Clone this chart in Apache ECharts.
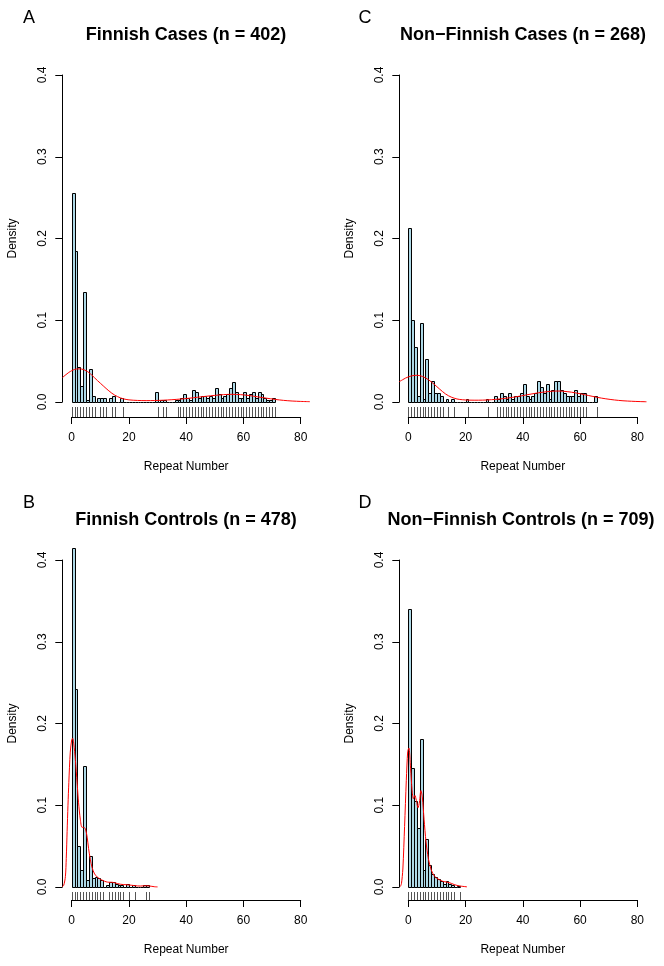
<!DOCTYPE html>
<html><head><meta charset="utf-8">
<script src="https://cdn.jsdelivr.net/npm/echarts@6/dist/echarts.min.js"></script>
<style>html,body{margin:0;padding:0;background:#fff}#c{width:664px;height:966px}</style>
</head><body><div id="c"></div>
<script>
// ---------- text ----------
const panelLetters = ['A', 'B', 'C', 'D'];
const panelTitles = ['Finnish Cases (n = 402)', 'Finnish Controls (n = 478)',
  'Non\u2212Finnish Cases (n = 268)', 'Non\u2212Finnish Controls (n = 709)'];
const xAxisTitle = 'Repeat Number';
const yAxisTitle = 'Density';
const xTickStep = 20;   // ticks 0, 20, 40, 60, 80
const yTickStep = 0.1;  // ticks 0.0 ... 0.4

// ---------- histogram densities, bins of width 1 starting at 0 ----------
const histA = [0.2562,0.1841,0.0423,0.0199,0.1343,0.0025,0.0398,0.0075,0,0.0050,
  0.0050,0.0050,0,0.0050,0.0075,0,0,0.0050,0,0,
  0,0,0,0,0,0,0,0,0,0.0124,
  0,0.0025,0.0025,0,0,0,0.0025,0.0025,0.0050,0.0100,
  0.0050,0.0025,0.0149,0.0124,0.0050,0.0075,0.0075,0.0050,0.0075,0.0050,
  0.0174,0.0100,0.0050,0.0075,0.0100,0.0174,0.0249,0.0124,0.0050,0.0050,
  0.0124,0.0050,0.0100,0.0124,0.0050,0.0124,0.0100,0.0050,0.0025,0.0025,
  0.0050];
const histB = [0.4142,0.2427,0.0502,0.0209,0.1485,0.0084,0.0377,0.0105,0.0126,0.0105,
  0.0084,0,0.0021,0.0063,0.0063,0.0042,0.0021,0.0021,0,0.0042,
  0,0.0021,0,0,0,0.0021,0.0021];
const histC = [0.2127,0.1007,0.0672,0.0075,0.0970,0.0037,0.0522,0.0112,0.0261,0.0112,
  0.0112,0.0075,0,0.0037,0,0.0037,0,0,0,0,
  0.0037,0,0,0,0,0,0,0.0037,0,0,
  0.0075,0.0037,0.0112,0.0075,0.0037,0.0112,0.0037,0.0075,0.0075,0.0112,
  0.0224,0.0075,0.0037,0.0075,0.0112,0.0261,0.0187,0.0112,0.0224,0.0037,
  0.0149,0.0261,0.0261,0.0149,0.0112,0.0075,0.0075,0.0075,0.0149,0.0075,
  0.0112,0.0112,0,0,0,0.0075];
const histD = [0.3399,0.1453,0.1058,0.0719,0.1805,0.0212,0.0592,0.0268,0.0155,0.0127,
  0.0099,0.0071,0.0042,0.0071,0.0042,0.0028,0,0.0014];

// ---------- rug (observed repeat numbers) ----------
const rugA = [0,1,2,3,4,5,6,7,8,10,11,12,14,15,18,30,32,33,37,38,39,40,41,42,43,44,45,46,47,48,
  49,50,51,52,53,54,55,56,57,58,59,60,61,62,63,64,65,66,67,68,69,70,71];
const rugB = [0,1,2,3,4,5,6,7,8,9,10,11,13,14,15,16,17,18,20,22,26,27];
const rugC = [0,1,2,3,4,5,6,7,8,9,10,11,12,14,16,21,28,31,32,33,34,35,36,37,38,39,40,41,42,43,
  44,45,46,47,48,49,50,51,52,53,54,55,56,57,58,59,60,61,62,66];
const rugD = [0,1,2,3,4,5,6,7,8,9,10,11,12,13,14,15,16,18];

// ---------- kernel density curves [x, density] ----------
const kdeA = [[-3.2,0.030],[-2,0.0335],[-1,0.0362],[0,0.0383],[1,0.0398],[2,0.0405],[3,0.0405],[4,0.0398],
  [5,0.0383],[6,0.0360],[7,0.0330],[8,0.0296],[9,0.0262],[10,0.0230],[11,0.0198],[12,0.0166],[13,0.0136],
  [14,0.0108],[15,0.0085],[16,0.0066],[17,0.0051],[18,0.0039],[20,0.0026],[23,0.0019],[26,0.0017],
  [29,0.0018],[32,0.0022],[35,0.0028],[38,0.0036],[41,0.0046],[44,0.0058],[47,0.0070],[50,0.0081],
  [53,0.0090],[56,0.0094],[59,0.0090],[62,0.0079],[65,0.0063],[68,0.0047],[71,0.0032],[74,0.0020],
  [77,0.0012],[80,0.0007],[83.2,0.0004]];
const kdeB = [[-3.4,0.0005],[-2.8,0.002],[-2.2,0.013],[-1.9,0.035],[-1.6,0.068],[-1.3,0.100],[-1.0,0.128],
  [-0.5,0.165],[0,0.180],[0.3,0.182],[0.7,0.176],[1.3,0.155],[1.9,0.127],[2.4,0.103],[3.0,0.083],
  [3.6,0.073],[4.2,0.073],[4.8,0.071],[5.4,0.061],[5.9,0.047],[6.5,0.034],[7.1,0.024],[8.0,0.016],
  [9.0,0.012],[10,0.0095],[11,0.0078],[12,0.0064],[13,0.0058],[14,0.0058],[15,0.0052],[16,0.0042],
  [17,0.0034],[18,0.0030],[19,0.0028],[20,0.0025],[21,0.0021],[22,0.0017],[23,0.0013],[24,0.0012],
  [25,0.0014],[26,0.0015],[27,0.0013],[28,0.0008],[29,0.0003],[30,0.0001]];
const kdeC = [[-3.2,0.0248],[-2,0.0272],[-1,0.0292],[0,0.0307],[1,0.0318],[2,0.0325],[3,0.0327],[4,0.0323],
  [5,0.0312],[6,0.0295],[7,0.0273],[8,0.0247],[9,0.0218],[10,0.0187],[11,0.0156],[12,0.0126],[13,0.0099],
  [14,0.0077],[15,0.0060],[16,0.0047],[17,0.0037],[18,0.0031],[20,0.0025],[23,0.0022],[26,0.0023],
  [29,0.0028],[32,0.0037],[35,0.0050],[38,0.0066],[41,0.0085],[44,0.0104],[47,0.0120],[50,0.0131],
  [52,0.0134],[54,0.0132],[57,0.0120],[60,0.0101],[63,0.0079],[66,0.0057],[69,0.0039],[72,0.0025],
  [75,0.0015],[78,0.0009],[81,0.0005],[83.2,0.0003]];
const kdeD = [[-2.8,0.0005],[-2.4,0.004],[-1.9,0.022],[-1.3,0.074],[-0.7,0.130],[-0.2,0.166],[0.2,0.170],
  [0.8,0.145],[1.3,0.119],[1.8,0.108],[2.3,0.112],[2.8,0.106],[3.4,0.097],[3.9,0.104],[4.4,0.118],
  [4.9,0.110],[5.5,0.083],[6.2,0.055],[7.0,0.035],[8.0,0.021],[9.2,0.013],[10.4,0.0098],[12,0.0070],
  [13.5,0.0060],[15,0.0045],[16,0.0030],[17,0.0020],[18.5,0.0010],[20.5,0.0002]];

// ---------- layout ----------
const FONT = '"Liberation Sans", Arial, Helvetica, sans-serif';
const X_MIN = 0, X_MAX = 80, X_PAD = 3.2;   // plot region extends 4% beyond the axis range
const W = 229, H = 327;
const panels = [
  { hist: histA, rug: rugA, kde: kdeA, left: 71.7, top: 75,  xOff: 15, yOff: 9.4, cx: 186, ty: 35,  lx: 29,  ly: 18 },
  { hist: histB, rug: rugB, kde: kdeB, left: 71.7, top: 560, xOff: 13, yOff: 9.4, cx: 186, ty: 520, lx: 29,  ly: 503 },
  { hist: histC, rug: rugC, kde: kdeC, left: 408.3, top: 75,  xOff: 15, yOff: 9,  cx: 523, ty: 35,  lx: 365, ly: 18 },
  { hist: histD, rug: rugD, kde: kdeD, left: 408.3, top: 560, xOff: 13, yOff: 9,  cx: 521, ty: 520, lx: 365, ly: 503 }
];

const grid = [], xAxis = [], yAxis = [], series = [], title = [];
panels.forEach((p, i) => {
  const pxPerUnit = W / (X_MAX - X_MIN);
  // visible axes grid (0..80)
  grid.push({ left: p.left, top: p.top, width: W, height: H });
  // plot-region grid (-3.2..83.2) used by the data
  grid.push({ left: p.left - X_PAD * pxPerUnit, top: p.top, width: W + 2 * X_PAD * pxPerUnit, height: H });
  const gv = 2 * i, gd = 2 * i + 1;
  xAxis.push({
    type: 'value', gridIndex: gv, min: X_MIN, max: X_MAX, interval: xTickStep, offset: p.xOff,
    axisLine: { show: true, onZero: false, lineStyle: { color: '#000', width: 1 } },
    axisTick: { show: true, length: 7, lineStyle: { color: '#000', width: 1 } },
    axisLabel: { color: '#000', fontSize: 12, fontFamily: FONT, margin: 15 },
    splitLine: { show: false },
    name: xAxisTitle, nameLocation: 'middle', nameGap: 44,
    nameTextStyle: { color: '#000', fontSize: 12, fontFamily: FONT }
  });
  xAxis.push({ type: 'value', gridIndex: gd, min: X_MIN - X_PAD, max: X_MAX + X_PAD, show: false,
    splitLine: { show: false } });
  yAxis.push({
    type: 'value', gridIndex: gv, min: 0, max: 0.4, interval: yTickStep, offset: p.yOff,
    axisLine: { show: true, onZero: false, lineStyle: { color: '#000', width: 1 } },
    axisTick: { show: true, length: 7, lineStyle: { color: '#000', width: 1 } },
    axisLabel: { color: '#000', fontSize: 12, fontFamily: FONT, rotate: 90, margin: 14,
      formatter: v => v.toFixed(1) },
    splitLine: { show: false },
    name: yAxisTitle, nameLocation: 'middle', nameGap: 44,
    nameTextStyle: { color: '#000', fontSize: 12, fontFamily: FONT }
  });
  yAxis.push({ type: 'value', gridIndex: gd, min: 0, max: 0.4, show: false, splitLine: { show: false } });
  const xi = 2 * i + 1, yi = 2 * i + 1;
  // histogram
  series.push({
    type: 'custom', xAxisIndex: xi, yAxisIndex: yi, silent: true,
    data: p.hist.map((d, k) => [k, d]),
    renderItem: (params, api) => {
      const x0 = api.value(0), d = api.value(1);
      const a = api.coord([x0, d]);
      const b = api.coord([x0 + 1, 0]);
      const x1 = Math.round(a[0]) + 0.5, x2 = Math.round(b[0]) + 0.5;
      const yTop = Math.round(a[1]) + 0.5, yBot = Math.round(b[1]) + 0.5;
      if (d === 0) {
        return { type: 'line', shape: { x1: x1, y1: yBot, x2: x2, y2: yBot },
          style: { stroke: '#000', lineWidth: 1 } };
      }
      return { type: 'rect', shape: { x: x1, y: yTop, width: x2 - x1, height: yBot - yTop },
        style: { fill: '#ADD8E6', stroke: '#000', lineWidth: 1 } };
    }
  });
  // rug
  series.push({
    type: 'custom', xAxisIndex: xi, yAxisIndex: yi, silent: true, clip: false,
    data: p.rug.map(v => [v, 0]),
    renderItem: (params, api) => {
      const c = api.coord([api.value(0), 0]);
      const x = Math.round(c[0]) + 0.5;
      return { type: 'line', shape: { x1: x, y1: c[1] + 5, x2: x, y2: c[1] + p.xOff },
        style: { stroke: '#555', lineWidth: 1 } };
    }
  });
  // density
  series.push({
    type: 'line', xAxisIndex: xi, yAxisIndex: yi, data: p.kde, clip: false,
    showSymbol: false, smooth: 0.3, silent: true,
    lineStyle: { color: '#FF0000', width: 1 }
  });
  title.push({ text: panelTitles[i], left: p.cx, top: p.ty, padding: 0, textAlign: 'center', textVerticalAlign: 'middle',
    textStyle: { fontSize: 18, fontWeight: 'bold', color: '#000', fontFamily: FONT } });
  title.push({ text: panelLetters[i], left: p.lx, top: p.ly, padding: 0, textAlign: 'center', textVerticalAlign: 'middle',
    textStyle: { fontSize: 18, fontWeight: 'normal', color: '#000', fontFamily: FONT } });
});

const chart = echarts.init(document.getElementById('c'), null, { renderer: 'canvas' });
chart.setOption({ animation: false, backgroundColor: '#fff', title, grid, xAxis, yAxis, series });
</script></body></html>
